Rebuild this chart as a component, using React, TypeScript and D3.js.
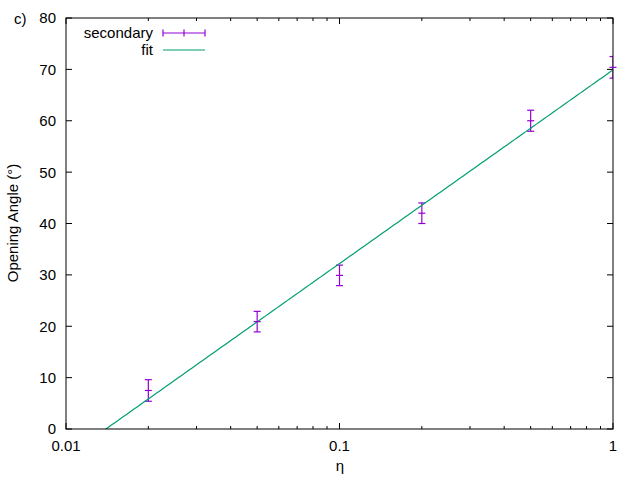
import React from "react";
import * as d3 from "d3";

const etaValues = [0.02, 0.05, 0.1, 0.2, 0.5, 1];
const angleValues = [7.5, 20.9, 29.9, 42.0, 60.0, 70.4];
const angleErrors = [2.1, 2.0, 2.0, 2.0, 2.05, 2.1];
const fitIntercept = 69.9;
const fitSlope = 37.7;
const yTicks = [0, 10, 20, 30, 40, 50, 60, 70, 80];
const xMajorTicks = [0.01, 0.1, 1];
const xTickLabels = ["0.01", "0.1", "1"];

const W = 640, H = 480;
const left = 66, right = 613, top = 18, bottom = 429;
const purple = "#9400d3";
const green = "#009e73";
const font = "'Liberation Sans', Arial, sans-serif";
const fs = 15;

export default function App() {
  const x = d3.scaleLog().domain([0.01, 1]).range([left, right]);
  const y = d3.scaleLinear().domain([0, 80]).range([bottom, top]);

  const minor: number[] = [];
  for (const dec of [0.01, 0.1]) for (let k = 2; k <= 9; k++) minor.push(dec * k);

  const fitSamples = d3.range(0, 201).map((i) => Math.pow(10, -2 + (2 * i) / 200));
  const fitLine = d3
    .line<number>()
    .x((v) => x(v))
    .y((v) => y(fitIntercept + fitSlope * Math.log10(v)));

  const cap = 3.5;
  return (
    <svg width={W} height={H} style={{ position: "fixed", left: 0, top: 0, background: "#fff" }}>
      <defs>
        <clipPath id="plot">
          <rect x={left} y={top} width={right - left} height={bottom - top} />
        </clipPath>
      </defs>
      <rect x={0} y={0} width={W} height={H} fill="#fff" />
      {yTicks.map((t) => (
        <g key={"y" + t}>
          <line x1={left} x2={left + 6} y1={y(t)} y2={y(t)} stroke="#000" />
          <line x1={right} x2={right - 6} y1={y(t)} y2={y(t)} stroke="#000" />
          <text x={56} y={y(t)} dy="0.36em" textAnchor="end" fontFamily={font} fontSize={fs}>
            {t}
          </text>
        </g>
      ))}
      {xMajorTicks.map((t, i) => (
        <g key={"x" + t}>
          <line x1={x(t)} x2={x(t)} y1={bottom} y2={bottom - 6} stroke="#000" />
          <line x1={x(t)} x2={x(t)} y1={top} y2={top + 6} stroke="#000" />
          <text x={x(t)} y={451} textAnchor="middle" fontFamily={font} fontSize={fs}>
            {xTickLabels[i]}
          </text>
        </g>
      ))}
      {minor.map((t) => (
        <g key={"m" + t}>
          <line x1={x(t)} x2={x(t)} y1={bottom} y2={bottom - 3} stroke="#000" />
          <line x1={x(t)} x2={x(t)} y1={top} y2={top + 3} stroke="#000" />
        </g>
      ))}
      <g stroke={purple} strokeWidth={1.2} fill="none" clipPath="url(#plot)">
        {etaValues.map((e, i) => {
          const cx = x(e);
          const y0 = y(angleValues[i] - angleErrors[i]);
          const y1 = y(angleValues[i] + angleErrors[i]);
          return (
            <g key={"e" + i}>
              <line x1={cx} x2={cx} y1={y0} y2={y1} />
              <line x1={cx - cap} x2={cx + cap} y1={y0} y2={y0} />
              <line x1={cx - cap} x2={cx + cap} y1={y1} y2={y1} />
            </g>
          );
        })}
      </g>
      <path d={fitLine(fitSamples) || ""} stroke={green} strokeWidth={1.2} fill="none" clipPath="url(#plot)" />
      <rect x={left} y={top} width={right - left} height={bottom - top} fill="none" stroke="#000" strokeWidth={1} />
      <g stroke={purple} strokeWidth={1.2}>
        {etaValues.map((e, i) => (
          <line key={"p" + i} x1={x(e) - cap} x2={x(e) + cap} y1={y(angleValues[i])} y2={y(angleValues[i])} />
        ))}
      </g>
      <text x={153} y={33} dy="0.36em" textAnchor="end" fontFamily={font} fontSize={fs}>
        secondary
      </text>
      <g stroke={purple} strokeWidth={1.2}>
        <line x1={163} x2={205} y1={33} y2={33} />
        <line x1={163} x2={163} y1={29.5} y2={36.5} />
        <line x1={184} x2={184} y1={29.5} y2={36.5} />
        <line x1={205} x2={205} y1={29.5} y2={36.5} />
      </g>
      <text x={153} y={50} dy="0.36em" textAnchor="end" fontFamily={font} fontSize={fs}>
        fit
      </text>
      <line x1={163} x2={205} y1={50} y2={50} stroke={green} strokeWidth={1.2} />
      <text x={14} y={23.5} fontFamily={font} fontSize={fs}>
        c)
      </text>
      <text x={340} y={471} textAnchor="middle" fontFamily={font} fontSize={fs}>
        η
      </text>
      <text transform="translate(18,223) rotate(-90)" textAnchor="middle" fontFamily={font} fontSize={fs}>
        Opening Angle (°)
      </text>
    </svg>
  );
}
